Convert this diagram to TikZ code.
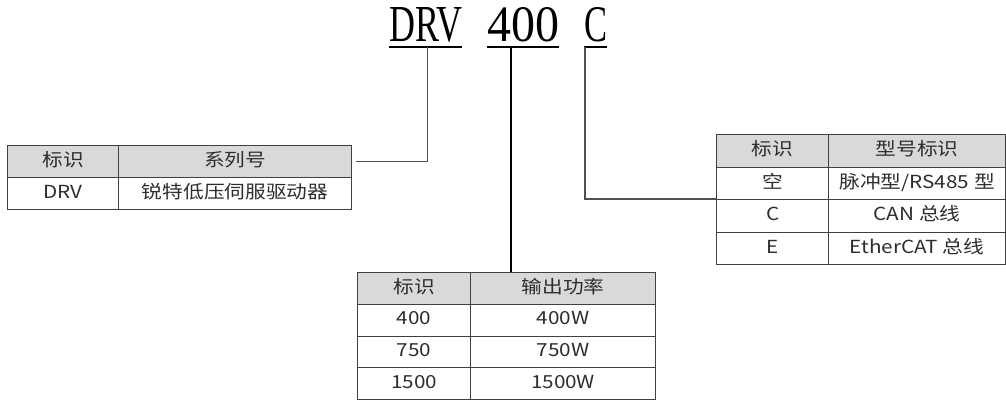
\documentclass[tikz,border=0pt]{standalone}
\usepackage{fontspec}
\usepackage{graphicx}
\usepackage{xcolor}
\usetikzlibrary{positioning}
\newfontfamily\cjk[FakeStretch=1.15]{Noto Sans CJK SC}
\newfontfamily\codefont{Liberation Serif}
\definecolor{headgray}{RGB}{217,217,217}
\definecolor{rulegray}{RGB}{64,64,64}
\definecolor{linkgray}{RGB}{80,80,80}
\definecolor{textgray}{RGB}{45,45,45}

\begin{document}
\begin{tikzpicture}[
    x=1pt, y=-1pt,
    cell/.style={
        draw=rulegray,
        line width=1.2pt,
        rectangle,
        anchor=north west,
        inner sep=0pt,
        text=textgray,
        text height=13pt,
        text depth=3.5pt,
        font=\cjk\fontsize{18}{20}\selectfont
    },
    head/.style={cell, fill=headgray},
    code/.style={inner sep=0pt, anchor=south west, font=\codefont},
    uline/.style={line width=2.2pt, draw=black},
    link/.style={line width=1.4pt, draw=linkgray}
]
\useasboundingbox (0,0) rectangle (1006,401);

% model code
\node[code] (drv) at (389,42) {\resizebox{73pt}{34pt}{DRV}};
\node[code] (pwr) at (487,42) {\resizebox{72pt}{34pt}{400}};
\node[code] (typ) at (584,42) {\resizebox{23pt}{34pt}{C}};

\draw[uline] ([yshift=-5pt]drv.south west) -- ([yshift=-5pt]drv.south east);
\draw[uline] ([yshift=-5pt]pwr.south west) -- ([yshift=-5pt]pwr.south east);
\draw[uline] ([yshift=-5pt]typ.south west) -- ([yshift=-5pt]typ.south east);

% series table
\node[head, minimum width=111pt, minimum height=32pt] (lh1) at (7,145) {标识};
\node[head, minimum width=233pt, minimum height=32pt] (lh2) at (118,145) {系列号};
\node[cell, minimum width=111pt, minimum height=32pt] (la1) at (7,177) {DRV};
\node[cell, minimum width=233pt, minimum height=32pt] (la2) at (118,177) {锐特低压伺服驱动器};

% type table
\node[head, minimum width=112pt, minimum height=32.5pt] (rh1) at (716,134) {标识};
\node[head, minimum width=177pt, minimum height=32.5pt] (rh2) at (828,134) {型号标识};
\node[cell, minimum width=112pt, minimum height=32.5pt] (ra1) at (716,166.5) {空};
\node[cell, minimum width=177pt, minimum height=32.5pt] (ra2) at (828,166.5) {脉冲型/RS485 型};
\node[cell, minimum width=112pt, minimum height=32.5pt] (rb1) at (716,199) {C};
\node[cell, minimum width=177pt, minimum height=32.5pt] (rb2) at (828,199) {CAN 总线};
\node[cell, minimum width=112pt, minimum height=32.5pt] (rc1) at (716,231.5) {E};
\node[cell, minimum width=177pt, minimum height=32.5pt] (rc2) at (828,231.5) {EtherCAT 总线};

% power table
\node[head, minimum width=113pt, minimum height=31.75pt] (bh1) at (357,272) {标识};
\node[head, minimum width=185pt, minimum height=31.75pt] (bh2) at (470,272) {输出功率};
\node[cell, minimum width=113pt, minimum height=31.75pt] (ba1) at (357,303.75) {400};
\node[cell, minimum width=185pt, minimum height=31.75pt] (ba2) at (470,303.75) {400W};
\node[cell, minimum width=113pt, minimum height=31.75pt] (bb1) at (357,335.5) {750};
\node[cell, minimum width=185pt, minimum height=31.75pt] (bb2) at (470,335.5) {750W};
\node[cell, minimum width=113pt, minimum height=31.75pt] (bc1) at (357,367.25) {1500};
\node[cell, minimum width=185pt, minimum height=31.75pt] (bc2) at (470,367.25) {1500W};

% leaders
\draw[link] ([xshift=1.5pt,yshift=-5pt]drv.south) |- ([xshift=4pt]lh2.east);
\draw[link, draw=black, line width=1.8pt] ([xshift=-12pt,yshift=-5pt]pwr.south) -- ([xshift=-12pt]pwr.south |- bh2.north);
\draw[link] ([xshift=1pt,yshift=-5pt]typ.south west) |- (rb1.north west);

\end{tikzpicture}
\end{document}
